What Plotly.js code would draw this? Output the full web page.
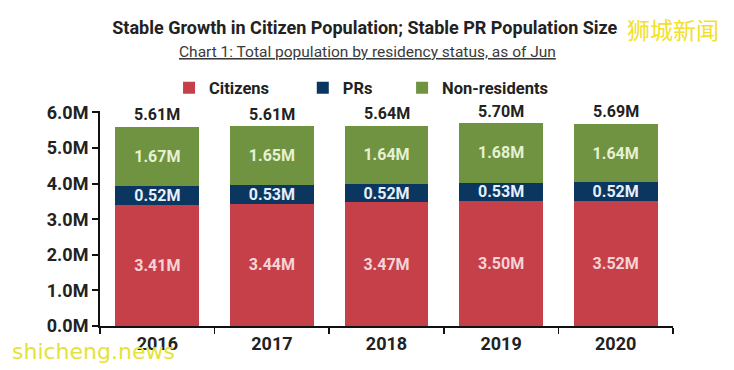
<!DOCTYPE html>
<html>
<head>
<meta charset="utf-8">
<script src="https://cdn.plot.ly/plotly-3.0.1.min.js"></script>
<style>html,body{margin:0;padding:0;background:#fff;}#chart{width:734px;height:370px;}</style>
</head>
<body>
<div id="chart"></div>
<script>
const years = ['2016', '2017', '2018', '2019', '2020'];
const citizens = [3.41, 3.44, 3.47, 3.50, 3.52];
const prs = [0.52, 0.53, 0.52, 0.53, 0.52];
const nonResidents = [1.67, 1.65, 1.64, 1.68, 1.64];
const totals = [5.61, 5.61, 5.64, 5.70, 5.69];
const yTickVals = [0, 1, 2, 3, 4, 5, 6];
const yTickText = ['0.0M', '1.0M', '2.0M', '3.0M', '4.0M', '5.0M', '6.0M'];

const FONT = 'Roboto, "Noto Sans", Arial, sans-serif';
const NB = '\u00a0';

function barTrace(name, vals, color, textColor) {
  return {
    type: 'bar', name: name, x: years, y: vals,
    marker: {color: color, line: {width: 0}},
    texttemplate: '%{y:.2f}M',
    textposition: 'inside', insidetextanchor: 'middle', textangle: 0,
    constraintext: 'none',
    textfont: {family: FONT, size: 16, weight: 700, color: textColor},
    hoverinfo: 'skip'
  };
}

const data = [
  barTrace('Citizens' + NB.repeat(7), citizens, '#C6404A', '#F7D3D6'),
  barTrace('PRs' + NB.repeat(6), prs, '#0B365F', '#E6EFFA'),
  barTrace('Non-residents', nonResidents, '#6F9340', '#E6F1D2')
];

const annotations = years.map((yr, i) => ({
  x: i, y: totals[i], xref: 'x', yref: 'y',
  text: totals[i].toFixed(2) + 'M', showarrow: false,
  yanchor: 'bottom', yshift: 0,
  font: {family: FONT, size: 16, weight: 700, color: '#222'}
}));

annotations.push({
  xref: 'paper', yref: 'paper', x: 0.466, y: 1.275,
  xanchor: 'center', yanchor: 'middle', showarrow: false,
  text: '<u>Chart 1: Total population by residency status, as of Jun</u>',
  font: {family: FONT, size: 15.5, color: '#3a3a3a'}
});
annotations.push({
  xref: 'paper', yref: 'paper', x: 1.0, y: 1.38,
  xanchor: 'center', yanchor: 'middle', showarrow: false,
  text: '狮城新闻',
  font: {family: '"Noto Sans CJK SC", sans-serif', size: 23, color: '#F2E02A'}
});
annotations.push({
  xref: 'paper', yref: 'paper', x: -0.157, y: -0.12,
  xanchor: 'left', yanchor: 'middle', showarrow: false,
  text: 'shicheng.news',
  font: {family: '"DejaVu Sans", sans-serif', size: 22, color: '#E6E236'}
});

const layout = {
  width: 734, height: 370,
  margin: {l: 100, r: 61, t: 111, b: 44},
  paper_bgcolor: '#fff', plot_bgcolor: '#fff',
  barmode: 'stack', bargap: 0.27,
  showlegend: true,
  legend: {
    orientation: 'h', x: 0.1205, xanchor: 'left', y: 1.107, yanchor: 'middle',
    font: {family: FONT, size: 16.5, weight: 700, color: '#222'},
    traceorder: 'normal', itemclick: false
  },
  uniformtext: {mode: 'show', minsize: 16},
  title: {
    text: 'Stable Growth in Citizen Population; Stable PR Population Size',
    x: 0.497, xref: 'container', xanchor: 'center',
    y: 0.925, yref: 'container', yanchor: 'middle',
    font: {family: FONT, size: 18, weight: 700, color: '#222'}
  },
  xaxis: {
    type: 'category', range: [-0.5, 4.5], autorange: false,
    showline: true, linecolor: '#111', linewidth: 2,
    ticks: 'outside', tickson: 'boundaries', ticklen: 6, tickwidth: 1.5, tickcolor: '#111',
    tickfont: {family: FONT, size: 18, weight: 700, color: '#222'},
    showgrid: false, zeroline: false
  },
  yaxis: {
    range: [0, 6.04], autorange: false, showline: true, linecolor: '#111', linewidth: 2,
    ticks: 'outside', ticklen: 6, tickwidth: 2, tickcolor: '#111',
    tickvals: yTickVals, ticktext: yTickText,
    tickfont: {family: FONT, size: 18, weight: 700, color: '#222'},
    showgrid: false, zeroline: false
  },
  annotations: annotations
};

Plotly.newPlot('chart', data, layout, {displayModeBar: false, staticPlot: true});
</script>
</body>
</html>
